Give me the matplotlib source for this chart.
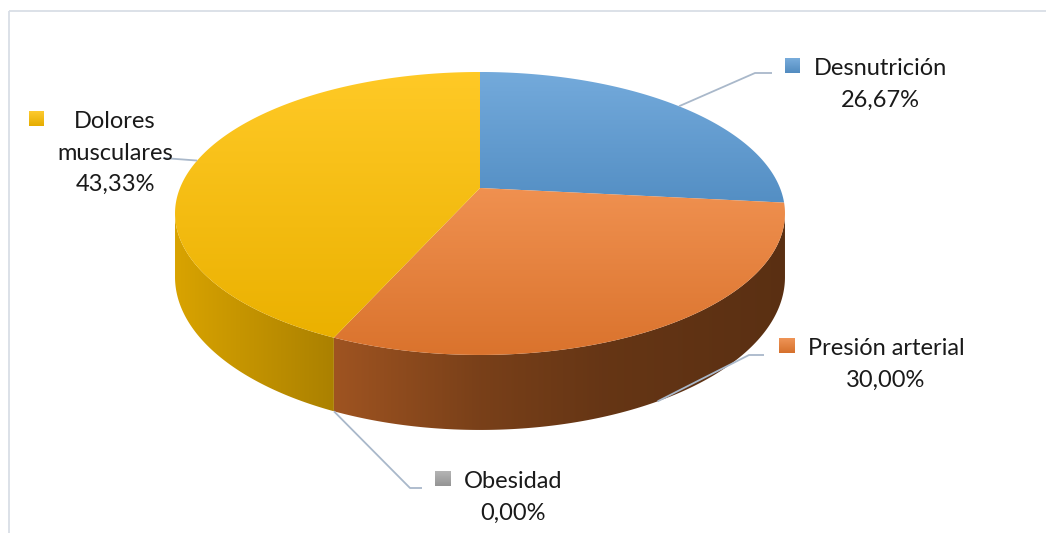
import numpy as np
import matplotlib.pyplot as plt
from matplotlib.patches import Polygon, Rectangle
from matplotlib.colors import to_rgb

plt.rcParams['font.family'] = ['Lato', 'DejaVu Sans']

categories = ['Desnutrición', 'Presión arterial', 'Obesidad', 'Dolores musculares']
percentages = [26.67, 30.00, 0.00, 43.33]
colors = ['#5b9bd5', '#ed7d31', '#a5a5a5', '#ffc000']

# where each label block sits (pixel coords, y grows downward)
label_layout = {
    'Desnutrición':       dict(cx=880, base=75, elbow=(755, 73), end=(772, 73)),
    'Presión arterial':   dict(cx=886, base=355, elbow=(749, 355), end=(764, 355)),
    'Obesidad':           dict(cx=513, base=488, elbow=(410, 488), end=(422, 488)),
    'Dolores musculares': dict(cx=115, base=128, elbow=None, end=(163, 158), wrap=True),
}
LINE_H = 31.5
FONT_SIZE = 17

# tilted disc: perspective projection of a unit circle
CX, CY = 480, 188
SX, TY, K = 300, 136.9, 0.18
DEPTH = 61.5
PIE_LEFT, PIE_RIGHT = CX - SX / np.sqrt(1 - K**2), CX + SX / np.sqrt(1 - K**2)


def project(theta, z=0.0):
    theta = np.asarray(theta, dtype=float)
    x, y = np.cos(theta), np.sin(theta)
    d = 1 + K * y
    return CX + SX * x / d, CY - TY * y / d + z * DEPTH / d


def mix(c, other, t):
    c, other = np.array(to_rgb(c)), np.array(to_rgb(other))
    return c * (1 - t) + other * t


def gradient_fill(ax, verts, top_rgb=None, bottom_rgb=None, horiz=None, zorder=1):
    verts = np.asarray(verts)
    x0, y0 = verts.min(0)
    x1, y1 = verts.max(0)
    if horiz is None:
        t = np.linspace(0, 1, 200)[:, None, None]
        arr = top_rgb[None, None, :] * (1 - t) + bottom_rgb[None, None, :] * t
        arr = np.repeat(arr, 2, axis=1)
    else:
        xs = np.linspace(x0, x1, 300)
        arr = horiz(xs)[None, :, :]
        arr = np.repeat(arr, 2, axis=0)
    poly = Polygon(verts, closed=True, fc='none', ec='none')
    ax.add_patch(poly)
    im = ax.imshow(np.clip(arr, 0, 1), extent=(x0, x1, y1, y0), origin='upper',
                   interpolation='bilinear', aspect='auto', zorder=zorder)
    im.set_clip_path(poly)
    return im


fig = plt.figure(figsize=(10.46, 5.33), dpi=100)
ax = fig.add_axes([0, 0, 1, 1])
ax.set_xlim(0, 1046)
ax.set_ylim(533, 0)
ax.axis('off')

# slice angles, starting at 12 o'clock and running clockwise
spans = np.radians(np.array(percentages) * 3.6)
starts = np.pi / 2 - np.concatenate([[0], np.cumsum(spans)[:-1]])
ends = starts - spans

vis_lo, vis_hi = -np.pi + np.arcsin(K), -np.arcsin(K)


def wall_shade(xs):
    u = (xs - PIE_LEFT) / (PIE_RIGHT - PIE_LEFT)
    return np.interp(u, [0, 0.26, 0.5, 0.7, 1.0], [0.85, 0.67, 0.51, 0.43, 0.38])


# side walls
for s, e, col in zip(starts, ends, colors):
    if s - e <= 0:
        continue
    for shift in (-2 * np.pi, 0, 2 * np.pi):
        a, b = max(e + shift, vis_lo), min(s + shift, vis_hi)
        if b <= a:
            continue
        th = np.linspace(a, b, 200)
        tx, ty = project(th, 0)
        bx, by = project(th[::-1], 1)
        verts = np.column_stack([np.concatenate([tx, bx]), np.concatenate([ty, by])])
        base = np.array(to_rgb(col))
        gradient_fill(ax, verts, horiz=lambda xs, base=base: wall_shade(xs)[:, None] * base,
                      zorder=1)

# top faces
for s, e, col in zip(starts, ends, colors):
    if s - e <= 0:
        continue
    th = np.linspace(s, e, 300)
    px, py = project(th, 0)
    verts = np.column_stack([np.concatenate([[CX], px]), np.concatenate([[CY], py])])
    gradient_fill(ax, verts, top_rgb=mix(col, 'white', 0.15),
                  bottom_rgb=np.array(to_rgb(col)) * 0.92, zorder=2)

ax.set_xlim(0, 1046)
ax.set_ylim(533, 0)

# labels with leader lines and legend keys
fig.canvas.draw()
renderer = fig.canvas.get_renderer()
inv = ax.transData.inverted()
for name, pct, s, e, col in zip(categories, percentages, starts, ends, colors):
    lay = label_layout[name]
    mid = (s + e) / 2
    ax_, ay_ = project(mid, 1 if np.sin(mid) < -K else 0)
    pts = [(float(ax_), float(ay_))]
    if lay['elbow'] is not None:
        pts.append(lay['elbow'])
    pts.append(lay['end'])
    pts = np.array(pts)
    ax.plot(pts[:, 0], pts[:, 1], color='#a9b8ca', lw=1.3, zorder=3,
            solid_capstyle='butt')

    lines = name.split(' ') if lay.get('wrap') else [name]
    lines = lines + [f'{pct:.2f}'.replace('.', ',') + '%']
    lefts = []
    for i, line in enumerate(lines):
        t = ax.text(lay['cx'], lay['base'] + i * LINE_H, line, ha='center',
                    va='baseline', fontsize=FONT_SIZE, color='#1a1a1a', zorder=4)
        if i < len(lines) - 1:
            bb = t.get_window_extent(renderer)
            lefts.append(inv.transform((bb.x0, bb.y0))[0])
    mx = min(lefts) - 13 - 15.5
    my = lay['base'] - 17
    sq = [(mx, my), (mx + 15.5, my), (mx + 15.5, my + 15.5), (mx, my + 15.5)]
    gradient_fill(ax, sq, top_rgb=mix(col, 'white', 0.2),
                  bottom_rgb=np.array(to_rgb(col)) * 0.9, zorder=4)

# chart area frame
ax.add_patch(Rectangle((8.5, 11), 1100, 600, fill=False, ec='#d9dee6', lw=1.3, zorder=0))

ax.set_xlim(0, 1046)
ax.set_ylim(533, 0)

fig.savefig('out.png', dpi=100)
